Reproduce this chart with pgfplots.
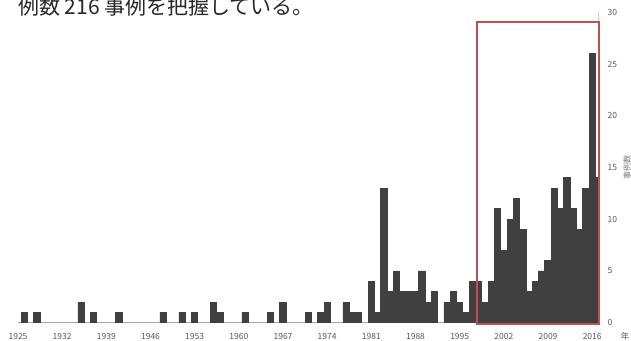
\documentclass[border=0pt]{standalone}
\usepackage{fontspec}
\setmainfont{Noto Sans CJK JP}
\usepackage{pgfplots}
\pgfplotsset{compat=1.18}
\definecolor{barc}{HTML}{404040}
\definecolor{boxred}{HTML}{C0504D}
\definecolor{tickc}{HTML}{595959}
\definecolor{axisc}{HTML}{A6A6A6}
\begin{document}
\begin{tikzpicture}
\begin{axis}[
  scale only axis, width=580.5pt, height=310.4pt,
  xmin=1925, xmax=2017, ymin=0, ymax=30,
  axis x line*=bottom, axis y line*=right,
  x axis line style={draw=axisc, line width=0.8pt},
  y axis line style={draw=axisc!60, line width=0.8pt},
  ybar, bar width=1, bar shift=0pt,
  xtick={1925,1932,...,2016},
  ytick={0,5,...,30},
  major tick length=0pt,
  /pgf/number format/assume math mode=true,
  /pgf/number format/1000 sep={},
  xticklabel style={anchor=center, yshift=-13.8pt, font=\fontsize{8.5}{10}\selectfont, text=tickc},
  yticklabel style={anchor=west, inner sep=0pt, xshift=9pt, font=\fontsize{8.5}{10}\selectfont, text=tickc},
]
\addplot[fill=barc, draw=barc, line width=0.8pt] coordinates {
(1926,1)(1928,1)(1935,2)(1937,1)(1941,1)(1948,1)(1951,1)(1953,1)(1956,2)(1957,1)
(1961,1)(1965,1)(1967,2)(1971,1)(1973,1)(1974,2)(1977,2)(1978,1)(1979,1)
(1981,4)(1982,1)(1983,13)(1984,3)(1985,5)(1986,3)(1987,3)(1988,3)(1989,5)(1990,2)
(1991,3)(1993,2)(1994,3)(1995,2)(1996,1)(1997,4)(1998,4)(1999,2)(2000,4)
(2001,11)(2002,7)(2003,10)(2004,12)(2005,9)(2006,3)(2007,4)(2008,5)(2009,6)(2010,13)
(2011,11)(2012,14)(2013,11)(2014,9)(2015,13)(2016,26)(2017,14)
};
\coordinate (O) at (axis cs:1925,0);
\coordinate (B1) at (axis cs:1997.67,-0.08);
\coordinate (B2) at (axis cs:2017.12,29.1);
\coordinate (YL) at (axis cs:2017,15);
\end{axis}
\draw[boxred, line width=2pt] (B1) rectangle (B2);
\node[rotate=90, anchor=center, font=\fontsize{8}{9}\selectfont, text=tickc!80] at ([xshift=28.5pt]YL) {事例数};
\node[anchor=center, font=\fontsize{8.5}{10}\selectfont, text=tickc] at ([xshift=607pt,yshift=-13.6pt]O) {年};
\node[anchor=base west, inner sep=0pt, font=\fontsize{21}{25}\selectfont, text=black!85] at ([yshift=308.5pt]O) {例数 216 事例を把握している。};
\pgfresetboundingbox
\path[use as bounding box] ([xshift=-18pt,yshift=-17.3pt]O) rectangle ++(631pt,340pt);
\end{tikzpicture}
\end{document}
